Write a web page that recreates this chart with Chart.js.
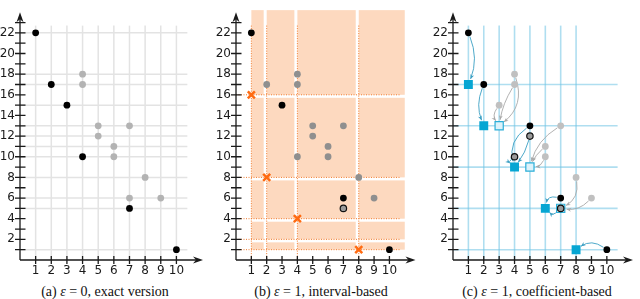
<!DOCTYPE html>
<html>
<head>
<meta charset="utf-8">
<script src="https://cdn.jsdelivr.net/npm/chart.js@4.4.0/dist/chart.umd.min.js"></script>
<style>
  html, body { margin: 0; padding: 0; background: #fff; overflow: hidden; }
  body { width: 640px; height: 299px; position: relative; }
  .panel { position: absolute; top: 0; width: 207px; height: 280px; }
  .caption {
    position: absolute; top: 284px; transform: translateX(-50%);
    font-family: "Liberation Serif", "Times New Roman", serif;
    font-size: 14px; line-height: 16px; color: #111; white-space: nowrap;
  }
</style>
</head>
<body>
<div class="panel" style="left:0"><canvas id="chartA" width="207" height="280"></canvas></div>
<div class="panel" style="left:216px"><canvas id="chartB" width="207" height="280"></canvas></div>
<div class="panel" style="left:433px"><canvas id="chartC" width="207" height="280"></canvas></div>
<div class="caption" style="left:105px">(a) <i>ε</i> = 0, exact version</div>
<div class="caption" style="left:321px">(b) <i>ε</i> = 1, interval-based</div>
<div class="caption" style="left:537px">(c) <i>ε</i> = 1, coefficient-based</div>

<script>
// tick labels
const xTicks = [1, 2, 3, 4, 5, 6, 7, 8, 9, 10];
const yTicks = [2, 4, 6, 8, 10, 12, 14, 16, 18, 20, 22];
const xMarks = [1, 2, 3, 4, 5, 6, 7, 8, 9, 10];
const yMarks = [1, 2, 3, 4, 5, 6, 7, 8, 9, 10, 11, 12, 13, 14, 15, 16, 17, 18, 19, 20, 21, 22, 23];

// (a) exact version
const exactBlack = [[1, 22], [2, 17], [3, 15], [4, 10], [7, 5], [10, 1]];
const exactGray = [[4, 18], [4, 17], [5, 13], [5, 12], [6, 11], [6, 10], [7, 13], [7, 6], [8, 8], [9, 6]];
const exactCols = [1, 2, 3, 4, 5, 6, 7, 8, 9, 10];
const exactRows = [22, 18, 17, 15, 13, 12, 11, 10, 8, 6, 5, 1];

// (b) interval-based
const intBlack = [[1, 22], [3, 15], [7, 6], [10, 1]];
const intGray = [[2, 17], [4, 18], [4, 17], [5, 13], [5, 12], [6, 11], [7, 13], [4, 10], [6, 10], [8, 8], [9, 6]];
const intRing = [[7, 5]];
const intCross = [[1, 16], [2, 8], [4, 4], [8, 1]];
const intColEdges = [1, 2, 4, 8, 11];
const intRowEdges = [1, 2, 4, 8, 16, 24.2];

// (c) coefficient-based
const coefBlack = [[1, 22], [2, 17], [5, 13], [7, 6], [10, 1]];
const coefGray = [[4, 18], [4, 17], [3, 15], [7, 13], [6, 11], [6, 10], [8, 8], [9, 6]];
const coefRing = [[5, 12], [4, 10], [7, 5]];
const coefSquare = [[1, 17], [2, 13], [4, 9], [6, 5], [8, 1]];
const coefOpen = [[3, 13], [5, 9], [7, 5]];
const coefCols = [1, 2, 3, 4, 5, 6, 7, 8];
const coefRows = [17, 13, 9, 5, 1];
// from x, from y, to x, to y, bend, kind
const coefArrows = [
  [1, 22, 1, 17, -0.2, 'blue'],
  [2, 17, 2, 13, 0.2, 'blue'],
  [4, 18, 3, 13, -0.35, 'gray'],
  [4, 17, 3, 13, 0.1, 'gray'],
  [3, 15, 3, 13, 0.35, 'gray'],
  [5, 13, 4, 9, 0.35, 'blue'],
  [5, 12, 4, 9, -0.1, 'blue'],
  [4, 10, 4, 9, 0.6, 'blue'],
  [7, 13, 5, 9, 0.2, 'gray'],
  [6, 11, 5, 9, 0.1, 'gray'],
  [6, 10, 5, 9, -0.3, 'gray'],
  [8, 8, 7, 5, -0.35, 'gray'],
  [9, 6, 7, 5, -0.25, 'gray'],
  [7, 6, 6, 5, 0.5, 'blue'],
  [7, 5, 6, 5, -0.5, 'blue'],
  [10, 1, 8, 1, 0.35, 'blue']
];

const lineTop = 22.7;
const lineRight = 10.7;

const toPts = arr => arr.map(p => ({ x: p[0], y: p[1] }));

function arrowHead(ctx, tx, ty, dx, dy, len, half) {
  const nx = -dy, ny = dx;
  ctx.beginPath();
  ctx.moveTo(tx, ty);
  ctx.lineTo(tx - dx * len + nx * half, ty - dy * len + ny * half);
  ctx.lineTo(tx - dx * len * 0.7, ty - dy * len * 0.7);
  ctx.lineTo(tx - dx * len - nx * half, ty - dy * len - ny * half);
  ctx.closePath();
  ctx.fill();
}

function drawAxes(chart) {
  const { ctx, chartArea, scales: { x, y } } = chart;
  const x0 = x.getPixelForValue(0), y0 = y.getPixelForValue(0);
  ctx.save();
  ctx.strokeStyle = '#1a1a1a';
  ctx.fillStyle = '#1a1a1a';
  ctx.lineWidth = 1.3;
  ctx.beginPath();
  ctx.moveTo(x0, y0); ctx.lineTo(x0, chartArea.top + 4);
  ctx.moveTo(x0, y0); ctx.lineTo(chartArea.right - 4, y0);
  yMarks.forEach(v => {
    const py = y.getPixelForValue(v);
    ctx.moveTo(x0 - 5, py); ctx.lineTo(x0 + 5.5, py);
  });
  xMarks.forEach(v => {
    const px = x.getPixelForValue(v);
    ctx.moveTo(px, y0 - 4); ctx.lineTo(px, y0 + 4);
  });
  ctx.stroke();
  arrowHead(ctx, x0, chartArea.top, 0, -1, 10, 3.5);
  arrowHead(ctx, chartArea.right, y0, 1, 0, 10, 3.5);
  ctx.restore();
}

function vLines(chart, cols, style, width, dash) {
  const { ctx, scales: { x, y } } = chart;
  ctx.save();
  ctx.strokeStyle = style; ctx.lineWidth = width; ctx.setLineDash(dash || []);
  cols.forEach(v => {
    const px = x.getPixelForValue(v);
    ctx.beginPath();
    ctx.moveTo(px, y.getPixelForValue(lineTop));
    ctx.lineTo(px, y.getPixelForValue(0));
    ctx.stroke();
  });
  ctx.restore();
}

function hLines(chart, rows, style, width, dash) {
  const { ctx, scales: { x, y } } = chart;
  ctx.save();
  ctx.strokeStyle = style; ctx.lineWidth = width; ctx.setLineDash(dash || []);
  rows.forEach(v => {
    const py = y.getPixelForValue(v);
    ctx.beginPath();
    ctx.moveTo(x.getPixelForValue(0), py);
    ctx.lineTo(x.getPixelForValue(lineRight), py);
    ctx.stroke();
  });
  ctx.restore();
}

function drawBoxes(chart) {
  const { ctx, scales: { x, y } } = chart;
  const gap = 3;
  ctx.save();
  ctx.fillStyle = '#fdd9bf';
  for (let i = 0; i < intColEdges.length - 1; i++) {
    const left = x.getPixelForValue(intColEdges[i]);
    let right = x.getPixelForValue(intColEdges[i + 1]);
    if (i < intColEdges.length - 2) right -= gap;
    for (let j = 0; j < intRowEdges.length - 1; j++) {
      const bottom = y.getPixelForValue(intRowEdges[j]);
      let top = y.getPixelForValue(intRowEdges[j + 1]);
      if (j < intRowEdges.length - 2) top += gap;
      ctx.fillRect(left, top, right - left, bottom - top);
    }
  }
  ctx.restore();
}

function drawArrows(chart) {
  const { ctx, scales: { x, y } } = chart;
  ctx.save();
  ctx.lineWidth = 0.9;
  coefArrows.forEach(([x1, y1, x2, y2, bend, kind]) => {
    const ax = x.getPixelForValue(x1), ay = y.getPixelForValue(y1);
    const bx = x.getPixelForValue(x2), by = y.getPixelForValue(y2);
    const dx = bx - ax, dy = by - ay;
    const cx = (ax + bx) / 2 - bend * dy, cy = (ay + by) / 2 + bend * dx;
    let ux = cx - ax, uy = cy - ay, ul = Math.hypot(ux, uy);
    const sx = ax + ux / ul * 4, sy = ay + uy / ul * 4;
    let vx = bx - cx, vy = by - cy, vl = Math.hypot(vx, vy);
    vx /= vl; vy /= vl;
    const ex = bx - vx * 6, ey = by - vy * 6;
    const col = kind === 'blue' ? '#3a9fc3' : '#a9a9a9';
    ctx.strokeStyle = col; ctx.fillStyle = col;
    ctx.beginPath();
    ctx.moveTo(sx, sy);
    ctx.quadraticCurveTo(cx, cy, ex, ey);
    ctx.stroke();
    arrowHead(ctx, ex, ey, vx, vy, 4.5, 2);
  });
  ctx.restore();
}

function baseOptions() {
  return {
    responsive: false,
    animation: false,
    layout: { padding: { top: 3, right: 0, left: 0, bottom: 0 } },
    plugins: { legend: { display: false }, tooltip: { enabled: false } },
    scales: {
      x: {
        type: 'linear', min: 0, max: 11.7,
        grid: { display: false, drawTicks: false },
        border: { display: false },
        ticks: {
          stepSize: 1, autoSkip: false, maxRotation: 0, padding: 4,
          color: '#1a1a1a', font: { family: 'DejaVu Sans', size: 12 },
          callback: v => xTicks.includes(v) ? String(v) : ''
        },
        afterFit: s => { s.height = 20; }
      },
      y: {
        type: 'linear', min: 0, max: 24,
        grid: { display: false, drawTicks: false },
        border: { display: false },
        ticks: {
          stepSize: 1, autoSkip: false, padding: 5,
          color: '#1a1a1a', font: { family: 'DejaVu Sans', size: 12 },
          callback: v => yTicks.includes(v) ? String(v) : ''
        },
        afterFit: s => { s.width = 20; }
      }
    }
  };
}

function dot(data, fill, border, radius, bw) {
  return {
    data: toPts(data), pointStyle: 'circle', pointRadius: radius || 3.4,
    pointBackgroundColor: fill, pointBorderColor: border || fill,
    pointBorderWidth: bw || 0, showLine: false
  };
}

// (a)
new Chart(document.getElementById('chartA'), {
  type: 'scatter',
  data: {
    datasets: [
      dot(exactBlack, '#000'),
      dot(exactGray, '#b3b3b3')
    ]
  },
  options: baseOptions(),
  plugins: [{
    id: 'decorA',
    beforeDatasetsDraw(chart) {
      vLines(chart, exactCols, '#e3e3e3', 1.5);
      hLines(chart, exactRows, '#e3e3e3', 1.5);
      drawAxes(chart);
    }
  }]
});

// (b)
new Chart(document.getElementById('chartB'), {
  type: 'scatter',
  data: {
    datasets: [
      {
        data: toPts(intCross), pointStyle: 'crossRot', pointRadius: 5,
        pointBorderColor: '#ff6b12', pointBorderWidth: 2.5, showLine: false
      },
      dot(intBlack, '#000'),
      dot(intRing, '#9a9a9a', '#111', 3.2, 1.2),
      dot(intGray, '#8f8f8f')
    ]
  },
  options: baseOptions(),
  plugins: [{
    id: 'decorB',
    beforeDatasetsDraw(chart) {
      drawBoxes(chart);
      vLines(chart, intColEdges.slice(0, -1), '#f27c2e', 1, [1, 1.5]);
      hLines(chart, intRowEdges.slice(0, -1), '#f27c2e', 1, [1, 1.5]);
      drawAxes(chart);
    }
  }]
});

// (c)
new Chart(document.getElementById('chartC'), {
  type: 'scatter',
  data: {
    datasets: [
      dot(coefBlack, '#000'),
      dot(coefRing, '#9a9a9a', '#111', 3.2, 1.2),
      dot(coefGray, '#c0c0c0'),
      {
        data: toPts(coefOpen), pointStyle: 'rect', pointRadius: 5.8,
        pointBackgroundColor: '#ddf2fa', pointBorderColor: '#2aaed8',
        pointBorderWidth: 1.2, showLine: false
      },
      {
        data: toPts(coefSquare), pointStyle: 'rect', pointRadius: 6.3,
        pointBackgroundColor: '#06a6d3', pointBorderColor: '#06a6d3',
        pointBorderWidth: 0, showLine: false
      }
    ]
  },
  options: baseOptions(),
  plugins: [{
    id: 'decorC',
    beforeDatasetsDraw(chart) {
      vLines(chart, coefCols, 'rgba(110,195,228,0.55)', 1.6);
      hLines(chart, coefRows, 'rgba(110,195,228,0.55)', 1.6);
      drawAxes(chart);
      drawArrows(chart);
    }
  }]
});
</script>
</body>
</html>
